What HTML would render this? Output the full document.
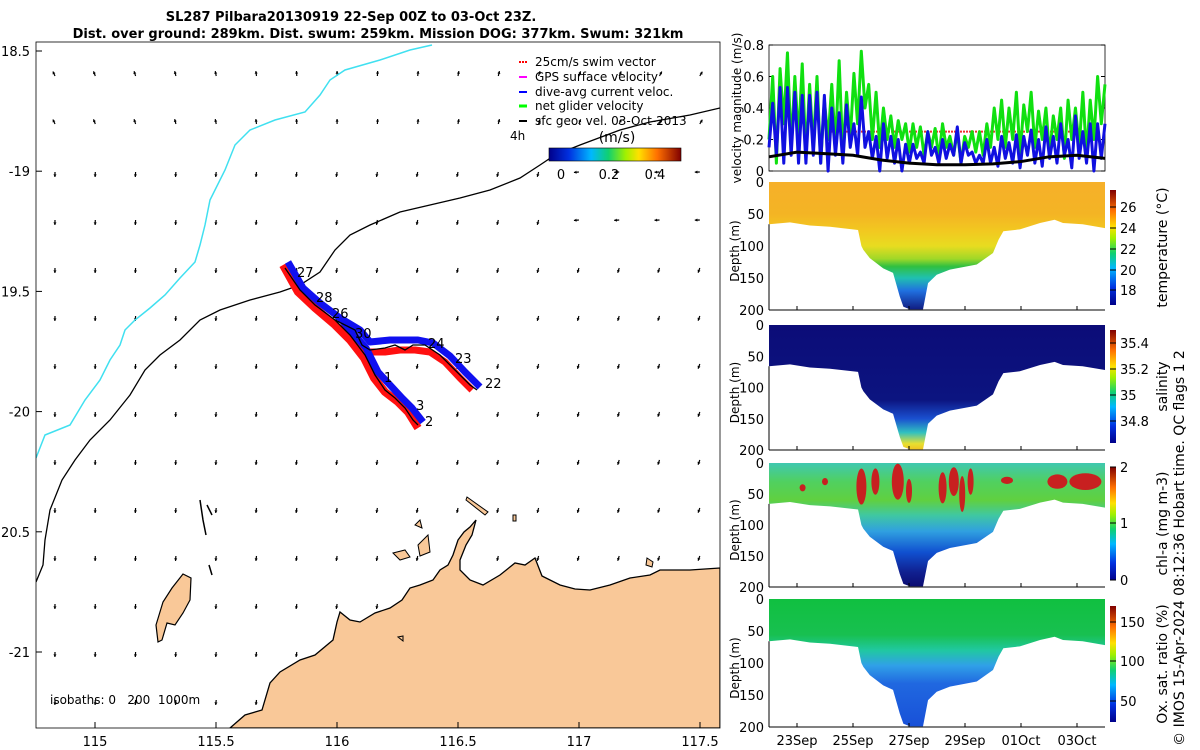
<!DOCTYPE html>
<html><head><meta charset="utf-8">
<style>
html,body{margin:0;padding:0;background:#fff;}
svg{display:block;font-family:"DejaVu Sans","Liberation Sans",sans-serif;}
</style></head>
<body>
<svg id="fig" width="1200" height="750" viewBox="0 0 1200 750" xmlns="http://www.w3.org/2000/svg">
<defs>
  <linearGradient id="jet" x1="0" x2="1" y1="0" y2="0">
    <stop offset="0" stop-color="#00008a"/><stop offset="0.15" stop-color="#0030e0"/>
    <stop offset="0.32" stop-color="#00b8ff"/><stop offset="0.45" stop-color="#10d070"/>
    <stop offset="0.58" stop-color="#a0f000"/><stop offset="0.68" stop-color="#ffe000"/>
    <stop offset="0.82" stop-color="#ff7000"/><stop offset="1" stop-color="#800000"/>
  </linearGradient>
  <linearGradient id="jetv" x1="0" x2="0" y1="1" y2="0">
    <stop offset="0" stop-color="#00008a"/><stop offset="0.15" stop-color="#0030e0"/>
    <stop offset="0.32" stop-color="#00b8ff"/><stop offset="0.45" stop-color="#10d070"/>
    <stop offset="0.58" stop-color="#a0f000"/><stop offset="0.68" stop-color="#ffe000"/>
    <stop offset="0.82" stop-color="#ff7000"/><stop offset="1" stop-color="#800000"/>
  </linearGradient>
  <linearGradient id="gTemp" x1="0" x2="0" y1="0" y2="1">
    <stop offset="0" stop-color="#f6b02a"/><stop offset="0.25" stop-color="#f4b424"/>
    <stop offset="0.38" stop-color="#f2c820"/><stop offset="0.5" stop-color="#e8dc20"/>
    <stop offset="0.6" stop-color="#a0d828"/><stop offset="0.66" stop-color="#30c040"/>
    <stop offset="0.75" stop-color="#20c0b0"/>
    <stop offset="0.85" stop-color="#2070e0"/><stop offset="1" stop-color="#101a80"/>
  </linearGradient>
  <linearGradient id="gSal" x1="0" x2="0" y1="0" y2="1">
    <stop offset="0" stop-color="#0c0c78"/><stop offset="0.6" stop-color="#0c1480"/>
    <stop offset="0.75" stop-color="#1a50d0"/><stop offset="0.86" stop-color="#30c0c0"/>
    <stop offset="0.95" stop-color="#e8e030"/><stop offset="1" stop-color="#f0c020"/>
  </linearGradient>
  <linearGradient id="gChl" x1="0" x2="0" y1="0" y2="1">
    <stop offset="0" stop-color="#40c8b0"/><stop offset="0.15" stop-color="#50d060"/>
    <stop offset="0.3" stop-color="#60d040"/><stop offset="0.42" stop-color="#40c8a0"/>
    <stop offset="0.55" stop-color="#30a0e0"/><stop offset="0.72" stop-color="#1050d0"/>
    <stop offset="0.88" stop-color="#102090"/><stop offset="1" stop-color="#0c0c70"/>
  </linearGradient>
  <linearGradient id="gOx" x1="0" x2="0" y1="0" y2="1">
    <stop offset="0" stop-color="#10c040"/><stop offset="0.28" stop-color="#18c050"/>
    <stop offset="0.4" stop-color="#20c8a0"/><stop offset="0.52" stop-color="#30a0e8"/>
    <stop offset="0.66" stop-color="#2068e0"/><stop offset="1" stop-color="#1850d8"/>
  </linearGradient>
  <clipPath id="mapclip"><rect x="36" y="42" width="684" height="686"/></clipPath>
</defs>

<text x="351" y="21" text-anchor="middle" font-size="13" font-weight="bold">SL287 Pilbara20130919 22-Sep 00Z to 03-Oct 23Z.</text>
<text x="378" y="38" text-anchor="middle" font-size="13" font-weight="bold">Dist. over ground: 289km. Dist. swum: 259km. Mission DOG: 377km. Swum: 321km</text>

<g id="map">
  <g clip-path="url(#mapclip)">
    <g id="arrows"></g>
    <path fill="#f9c898" stroke="#000" stroke-width="1.3"
      d="M230,728 L245,715 L262,710 L270,683 L280,672 L300,660 L315,655 L333,640 L337,622 L340,612 L350,620 L360,622 L375,613 L390,608 L402,600 L410,588 L420,585 L433,580 L440,570 L448,565 L453,555 L458,540 L464,532 L470,527 L476,520 L472,535 L466,545 L460,560 L460,570 L470,580 L483,585 L500,575 L515,563 L525,565 L535,558 L542,576 L560,585 L575,589 L590,590 L610,585 L630,578 L650,575 L660,570 L690,570 L720,568 L720,728 Z"/>
    <path fill="#f9c898" stroke="#000" stroke-width="1.2"
      d="M183,574 L191,578 L190,600 L183,613 L175,625 L167,623 L162,640 L158,642 L156,625 L163,602 L172,588 Z"/>
    <path fill="none" stroke="#000" stroke-width="1.5" d="M200,500 L203,520 L206,535 M207,505 L212,515 M209,565 L212,575"/>
    <path fill="#f9c898" stroke="#000" stroke-width="1" d="M393,553 L405,550 L410,557 L400,560 Z M418,545 L428,535 L430,552 L420,556 Z M415,525 L420,520 L422,528 Z M467,497 L488,512 L485,515 L466,500 Z M513,515 L516,515 L516,521 L513,521 Z M398,637 L403,636 L403,641 Z M647,558 L653,562 L652,567 L646,565 Z"/>
    <polyline id="cyaniso" fill="none" stroke="#40e0f0" stroke-width="1.5"
      points="36,458 45,435 70,425 85,400 100,380 110,360 120,345 125,330 135,320 150,308 165,295 180,278 195,262 200,245 205,225 210,200 225,170 235,145 250,130 275,120 305,112 320,95 330,80 345,70 380,60 410,50 432,45"/>
    <polyline fill="none" stroke="#000" stroke-width="1.3"
      points="36,582 43,565 45,540 50,510 62,480 75,460 90,440 110,420 130,395 145,370 160,355 180,340 200,320 220,310 250,300 280,292 300,285 320,272 335,250 350,235 370,225 400,212 430,205 460,198 490,190 520,178 540,165 555,155 580,145 620,130 650,122 690,115 720,108"/>
    <g>
      <polyline fill="none" stroke="#ff1010" stroke-width="8" stroke-linejoin="round" points="283,265 298,292 315,308 335,325 350,340 364,358 374,378 385,392 398,402 408,412 418,428"/>
      <polyline fill="none" stroke="#ff1010" stroke-width="7" stroke-linejoin="round" points="335,325 355,338 365,352 385,352 400,350 415,350 430,352 445,362 460,378 472,390"/>
      <polyline fill="none" stroke="#1010f0" stroke-width="7" stroke-linejoin="round" points="288,262 303,288 320,303 340,318 352,332 366,348 378,372 390,385 402,398 412,408 423,422"/>
      <polyline fill="none" stroke="#1010f0" stroke-width="7" stroke-linejoin="round" points="340,318 360,330 370,342 390,340 405,340 418,340 433,343 450,356 465,372 480,387"/>
      <polyline fill="none" stroke="#000" stroke-width="1.3" points="285,268 300,290 315,305 335,320 350,335 365,355 375,375 385,390 395,398 405,408 413,420 418,425"/>
      <polyline fill="none" stroke="#000" stroke-width="1.3" points="335,320 355,330 362,345 370,350 385,348 395,345 405,350 413,345 425,345 440,355 455,370 470,385 477,390"/>
    </g>
    <g font-size="13">
      <text x="297" y="277">27</text><text x="316" y="302">28</text><text x="332" y="318">26</text>
      <text x="355" y="338">30</text><text x="384" y="382">1</text><text x="416" y="410">3</text>
      <text x="425" y="426">2</text><text x="485" y="388">22</text><text x="455" y="363">23</text><text x="428" y="348">24</text>
    </g>
  </g>
  <rect x="36" y="42" width="684" height="686" fill="none" stroke="#000" stroke-width="0.8"/>
  <g id="mapticks" font-size="13"></g>
  <text x="50" y="704" font-size="12" xml:space="preserve" style="white-space:pre">isobaths: 0   200  1000m</text>
  <g font-size="12">
    <line x1="519" y1="62" x2="527" y2="62" stroke="#f00" stroke-width="2" stroke-dasharray="2,1"/><text x="535" y="66">25cm/s swim vector</text>
    <line x1="519" y1="77" x2="527" y2="77" stroke="#f0f" stroke-width="2"/><text x="535" y="81">GPS surface velocity</text>
    <line x1="519" y1="92" x2="527" y2="92" stroke="#00f" stroke-width="2"/><text x="535" y="96">dive-avg current veloc.</text>
    <line x1="519" y1="106" x2="527" y2="106" stroke="#0f0" stroke-width="3"/><text x="535" y="110">net glider velocity</text>
    <line x1="519" y1="121" x2="527" y2="121" stroke="#000" stroke-width="2"/><text x="535" y="125">sfc geo. vel. 03-Oct-2013</text>
    <text x="510" y="140">4h</text>
  </g>
  <text x="617" y="142" font-size="14" text-anchor="middle">(m/s)</text>
  <rect x="549" y="148" width="132" height="13" fill="url(#jet)" stroke="#000" stroke-width="0.6"/>
  <g font-size="13" text-anchor="middle">
    <text x="561" y="179">0</text><text x="609" y="179">0.2</text><text x="655" y="179">0.4</text>
  </g>
</g>

<g id="right"></g>

<text transform="translate(1184,548) rotate(-90)" text-anchor="middle" font-size="14">© IMOS 15-Apr-2024 08:12:36 Hobart time. QC flags 1  2</text>

<script>
// ---- velocity data (time step = 12 days / 92 samples) ----
const blueVel = [0.15,0.43,0.1,0.53,0.05,0.53,0.1,0.5,0.05,0.48,0.05,0.48,0.1,0.5,0.05,0.48,0.0,0.4,0.1,0.37,0.05,0.42,0.15,0.3,0.1,0.47,0.15,0.25,0.08,0.22,
 0.0,0.3,0.08,0.22,0.05,0.2,0.0,0.17,0.05,0.17,0.08,0.12,0.05,0.25,0.1,0.15,0.05,0.2,0.08,0.17,0.1,0.28,0.05,0.18,0.1,0.12,0.05,0.1,0.05,0.2,
 0.05,0.15,0.03,0.22,0.08,0.18,0.05,0.23,0.02,0.22,0.1,0.26,0.05,0.2,0.03,0.28,0.08,0.22,0.05,0.3,0.1,0.2,0.02,0.35,0.08,0.25,0.05,0.3,0.0,0.3,0.08,0.3];
const greenVel = [0.2,0.6,0.05,0.65,0.3,0.75,0.15,0.6,0.2,0.68,0.1,0.55,0.15,0.6,0.05,0.45,0.2,0.55,0.15,0.7,0.1,0.5,0.2,0.62,0.3,0.76,0.4,0.55,0.2,0.5,
 0.15,0.4,0.2,0.35,0.15,0.32,0.2,0.3,0.12,0.3,0.15,0.28,0.1,0.25,0.15,0.27,0.08,0.3,0.15,0.22,0.1,0.25,0.05,0.22,0.15,0.25,0.12,0.25,0.1,0.3,
 0.15,0.4,0.2,0.45,0.15,0.4,0.2,0.5,0.1,0.42,0.25,0.5,0.15,0.38,0.2,0.4,0.1,0.35,0.2,0.4,0.08,0.45,0.2,0.4,0.15,0.5,0.1,0.45,0.2,0.6,0.3,0.55];
const geoDays = [0,1,2,3,4,5,6,7,8,9,10,11,12];
const geoVel = [0.09,0.12,0.11,0.1,0.07,0.05,0.04,0.04,0.045,0.06,0.09,0.1,0.08];
const swimVel = 0.25;
const velTicks = [0,0.2,0.4,0.6,0.8];
// ---- dive depth envelope ----
const profDays = [0,0.75,1.46,2.18,3.18,3.3,3.37,3.6,4.08,4.43,4.67,4.8,5.04,5.5,5.68,5.99,6.46,7.42,8.0,8.2,8.37,8.96,9.68,10.2,10.5,11.2,12];
const profDepth = [66,63,68,70,75,100,106,119,135,142,179,195,199,199,158,145,137,129,111,90,77,74,64,59,64,66,72];
const dateLabels = ["23Sep","25Sep","27Sep","29Sep","01Oct","03Oct"];
const dateDays = [1,3,5,7,9,11];
const depthTicks = [0,50,100,150,200];
// ---- map axes ----
const lonTicks = [115,115.5,116,116.5,117,117.5];
const lonLabels = ["115","115.5","116","116.5","117","117.5"];
const latTicks = [-18.5,-19,-19.5,-20,-20.5,-21];
const latLabels = ["18.5","-19","19.5","-20","20.5","-21"];

const NS="http://www.w3.org/2000/svg";
function mk(tag, attrs, parent){const e=document.createElementNS(NS,tag);for(const k in attrs)e.setAttribute(k,attrs[k]);if(parent)parent.appendChild(e);return e;}
const lonX = lon => 95 + (lon-115)*242;
const latY = lat => 51 + (-18.5-lat)*240.4;

const mt=document.getElementById('mapticks');
lonTicks.forEach((v,i)=>{
  const t=mk('text',{x:lonX(v),y:746,'text-anchor':'middle'},mt);t.textContent=lonLabels[i];
  
  
  mk('line',{x1:lonX(v),x2:lonX(v),y1:728,y2:722,stroke:'#000'},mt);
});
latTicks.forEach((v,i)=>{
  const t=mk('text',{x:30,y:latY(v)+5,'text-anchor':'end'},mt);t.textContent=latLabels[i];
  
  
  mk('line',{x1:36,x2:42,y1:latY(v),y2:latY(v),stroke:'#000'},mt);
});

const ag=document.getElementById('arrows');
for(let i=0;i<17;i++){for(let j=0;j<14;j++){
  const x=55+40.3*i, y=76+48*j;
  let ang = (y<150 ? -2.0+0.06*i : 1.75 + 0.02*(i-8) + (i>12&&y<260? 1.2:0));
  const L=5;
  const x2=x+L*Math.cos(ang), y2=y+L*Math.sin(ang);
  const a=mk('g',{},ag);
  
  
  mk('line',{x1:x,y1:y,x2:x2,y2:y2,stroke:'#000','stroke-width':1.2},a);
  const h1=ang+2.6,h2=ang-2.6;
  mk('path',{d:`M${x2},${y2} L${x2+3*Math.cos(h1)},${y2+3*Math.sin(h1)} L${x2+3*Math.cos(h2)},${y2+3*Math.sin(h2)} Z`,fill:'#000'},a);
}}

const R=document.getElementById('right');
const X0=769, X1=1105;
const tX = d => X0 + d*(X1-X0)/12;

const VT=45, VB=171;
const vY = v => VB - v*(VB-VT)/0.8;
const vp=mk('g',{},R);


mk('rect',{x:X0,y:VT,width:X1-X0,height:VB-VT,fill:'none',stroke:'#000','stroke-width':0.8},vp);
velTicks.forEach(v=>{
  const t=mk('text',{x:764,y:vY(v)+5,'text-anchor':'end','font-size':13},vp);t.textContent=String(v);
  
  
  mk('line',{x1:X0,x2:X0+4,y1:vY(v),y2:vY(v),stroke:'#000'},vp);
  mk('line',{x1:X1,x2:X1-4,y1:vY(v),y2:vY(v),stroke:'#000'},vp);
});
const vl=mk('text',{transform:'translate(741,108) rotate(-90)','text-anchor':'middle','font-size':12},vp);vl.textContent='velocity magnitude (m/s)';


const sw=mk('line',{x1:tX(2),x2:tX(11.7),y1:vY(swimVel),y2:vY(swimVel),stroke:'#f03030','stroke-width':2,'stroke-dasharray':'2,1'},vp);


function series(arr,color,w,name){
  const step=12/(arr.length-1);
  const p=mk('polyline',{points:arr.map((v,i)=>tX(i*step)+','+vY(v)).join(' '),fill:'none',stroke:color,'stroke-width':w,'stroke-linejoin':'round'},vp);
  
  
}
series(greenVel,'#10e010',3,'net-glider-velocity-line');
series(blueVel,'#1010e0',3,'dive-avg-current-line');
const gl=mk('polyline',{points:geoDays.map((d,i)=>tX(d)+','+vY(geoVel[i])).join(' '),fill:'none',stroke:'#000','stroke-width':3},vp);



const panels=[
 {top:182,bot:310,grad:'gTemp',label:'temperature (°C)',name:'temperature-panel',cb:[190,305],ticks:[[26,207],[24,228],[22,249],[20,270],[18,290]]},
 {top:325,bot:450,grad:'gSal',label:'salinity',name:'salinity-panel',cb:[330,443],ticks:[[35.4,343],[35.2,369],[35,395],[34.8,421]]},
 {top:463,bot:587,grad:'gChl',label:'chl-a (mg m-3)',name:'chlorophyll-panel',cb:[467,580],ticks:[[2,467],[1,523],[0,580]]},
 {top:599,bot:727,grad:'gOx',label:'Ox. sat. ratio (%)',name:'oxygen-panel',cb:[606,722],ticks:[[150,622],[100,661],[50,701]]}
];
panels.forEach((P,k)=>{
  const g=mk('g',{},R);
  
  
  const dY = d => P.top + d*(P.bot-P.top)/200;
  let pts=profDays.map((d,i)=>tX(d)+','+dY(profDepth[i]));
  const poly='M'+tX(0)+','+P.top+' L'+pts.join(' L')+' L'+tX(12)+','+P.top+' Z';
  const cid='clip'+k;
  const cp=mk('clipPath',{id:cid},g); mk('path',{d:poly},cp);
  const fill=mk('g',{'clip-path':'url(#'+cid+')'},g);
  mk('rect',{x:X0,y:P.top,width:X1-X0,height:P.bot-P.top,fill:'url(#'+P.grad+')'},fill);
  if(k===2){
    [[3.3,38,5,30],[3.8,30,4,22],[4.6,30,6,30],[5.0,45,3,20],[6.2,40,4,26],[6.6,30,5,24],[7.2,30,3,22],[6.9,50,3,30],[10.3,30,10,12],[11.3,30,16,14],[1.2,40,3,6],[2.0,30,3,6],[8.5,28,6,6]].forEach(b=>{
      mk('ellipse',{cx:tX(b[0]),cy:dY(b[1]),rx:b[2],ry:b[3]*0.6,fill:'#c82020'},fill);
    });
  }
  mk('line',{x1:X0,x2:X1,y1:P.bot,y2:P.bot,stroke:'#000','stroke-width':1},g);
  mk('line',{x1:X0,x2:X0,y1:dY(profDepth[0]),y2:P.bot,stroke:'#000','stroke-width':1},g);
  depthTicks.forEach(d=>{
    const t=mk('text',{x:764,y:dY(d)+5,'text-anchor':'end','font-size':13},g);t.textContent=String(d);
    
    
  });
  const dl=mk('text',{transform:`translate(739,${(P.top+P.bot)/2+5}) rotate(-90)`,'text-anchor':'middle','font-size':12},g);dl.textContent='Depth (m)';
  
  
  dateDays.forEach(d=>mk('line',{x1:tX(d),x2:tX(d),y1:P.bot,y2:P.bot-4,stroke:'#000'},g));
  const cb=mk('rect',{x:1110,y:P.cb[0],width:6,height:P.cb[1]-P.cb[0],fill:'url(#jetv)'},g);
  
  
  P.ticks.forEach(tk=>{
    const t=mk('text',{x:1120,y:tk[1]+5,'font-size':13},g);t.textContent=String(tk[0]);
    
    
    mk('line',{x1:1110,x2:1116,y1:tk[1],y2:tk[1],stroke:'#000'},g);
  });
  const cl=mk('text',{transform:`translate(1167,${(P.cb[0]+P.cb[1])/2}) rotate(-90)`,'text-anchor':'middle','font-size':14},g);cl.textContent=P.label;
  
  
});
dateDays.forEach((d,i)=>{
  const t=mk('text',{x:tX(d),y:745,'text-anchor':'middle','font-size':13},R);t.textContent=dateLabels[i];
  
  
});
</script>
</svg>
</body></html>
